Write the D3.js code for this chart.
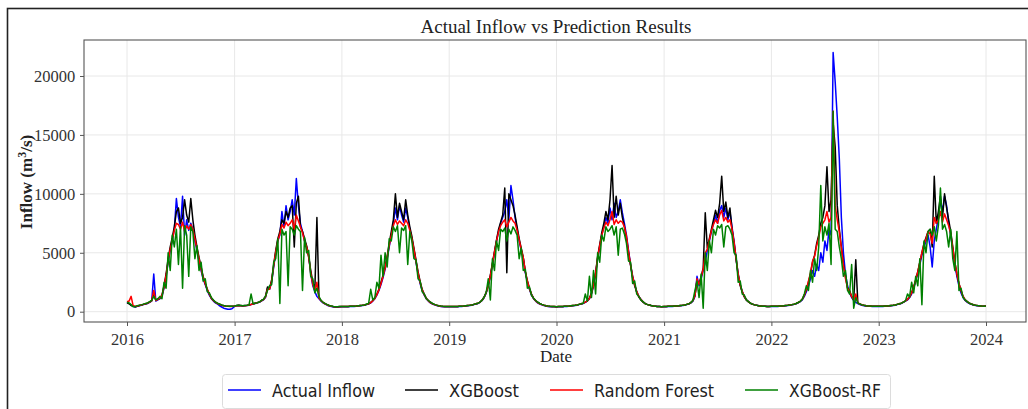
<!DOCTYPE html>
<html>
<head>
<meta charset="utf-8">
<script src="https://cdn.jsdelivr.net/npm/d3@7"></script>
<style>
  body { margin: 0; background: #fff; }
  svg { display: block; }
</style>
</head>
<body>
<div id="chart"></div>
<script>
// weekly samples, 52 per year from 2016, last value is 2024-01-01
const startYear = 2016;
const weeksPerYear = 52;

const yTicks = [0, 5000, 10000, 15000, 20000];
const xTickYears = [2016, 2017, 2018, 2019, 2020, 2021, 2022, 2023, 2024];

const seriesNames = ["Actual Inflow", "XGBoost", "Random Forest", "XGBoost-RF"];
const seriesColors = ["#0000ff", "#000000", "#ff0000", "#008000"];

const actual = [
  800,700,550,450,400,450,500,550,600,650,700,800,900,3200,900,1000,1100,1300,2000,3000,4200,5200,6000,7000,9600,8000,7200,9800,6500,7800,6900,7500,7000,6000,5200,4300,3500,2800,2300,1800,1400,1100,900,750,650,500,400,300,250,200,200,250,
  450,500,520,500,480,500,520,550,600,650,700,750,800,900,1000,1200,2000,1900,2500,3800,5000,6000,6500,8500,7200,9000,7800,8500,9500,8200,11300,9000,7500,6800,6000,5500,4800,3200,2200,1700,1300,1100,900,750,650,550,480,430,400,380,380,400,
  420,420,430,430,440,450,450,460,480,500,520,550,600,650,750,900,1100,1400,1800,2300,2900,3600,4500,5500,6500,7500,8800,7800,9000,8200,7600,8800,8000,7000,6200,5200,4200,3200,2400,1800,1400,1100,900,750,650,580,520,480,450,430,420,420,
  420,420,420,430,430,440,450,460,480,500,520,550,600,650,700,800,950,1200,1600,2200,3000,4000,5000,6000,6800,7500,8000,8500,9500,7800,10700,9500,8000,7000,6000,5200,4500,3300,2500,1900,1400,1100,900,750,650,580,520,480,450,430,420,420,
  400,420,430,430,440,450,460,480,500,520,550,600,650,700,800,900,1100,1500,2200,3200,4500,5500,6500,7200,8000,7500,8800,7800,9200,8000,8500,9500,8400,7500,6500,5200,4000,3000,2300,1700,1300,1050,850,700,620,560,520,490,470,450,440,430,
  430,430,440,440,450,460,470,480,500,520,550,600,650,750,900,1300,3000,2200,2800,3500,4200,5200,6000,6800,7500,8200,7500,8600,9000,8000,8800,7800,8500,7200,6000,4500,3200,2300,1700,1300,1000,850,720,640,580,540,510,490,470,460,450,440,
  440,440,450,450,460,470,480,500,520,550,580,620,680,750,850,1000,1300,1700,2200,2800,3500,3000,4000,3500,5000,4200,6000,5200,7000,6500,22000,19500,16500,13000,8000,5000,3200,2200,1600,1200,950,800,680,600,550,510,490,470,460,450,440,440,
  440,440,450,460,470,480,500,520,550,600,650,700,800,900,1000,1200,1500,2000,2600,3300,4000,4800,5500,6000,6500,5500,3800,6000,7000,8000,9500,8500,9800,9000,7500,6500,5200,4000,3000,2200,1600,1200,950,800,700,620,570,530,500,480,470,460,
  480
];

const xgboost = [
  750,680,520,480,420,470,520,560,620,680,720,820,950,1500,1000,1050,1150,1400,2200,3200,4500,5500,6300,7200,8500,8800,7500,8000,9500,8200,7600,9600,7800,6500,5500,4600,3800,3000,2400,1900,1500,1150,950,800,700,620,550,500,480,470,460,460,
  480,520,540,520,500,520,540,570,620,670,720,770,820,950,1050,1300,2100,2000,2700,4000,5200,6200,6800,7800,7500,8500,8000,8800,9000,5500,9200,9800,7200,6800,6200,5600,4600,3500,2500,1900,8000,1200,950,800,680,600,530,480,450,430,430,440,
  440,440,450,450,460,470,470,480,500,520,540,570,620,680,780,950,1150,1500,1900,2500,3100,3800,4700,5800,6800,7800,10000,8000,9200,8500,7800,9500,8200,7200,6400,5400,4400,3400,2600,1900,1500,1150,950,800,700,620,560,510,480,460,450,450,
  440,440,440,450,450,460,470,480,500,520,540,570,620,670,720,820,980,1250,1650,2300,3100,4100,5100,6100,7000,7600,8200,10500,3300,10000,9500,9000,8200,7200,6200,5400,4600,3400,2600,2000,1500,1150,950,800,700,620,560,510,480,460,450,440,
  420,440,450,450,460,470,480,500,520,540,570,620,670,720,820,930,1150,1600,2300,3300,4700,5700,6700,7500,8500,7800,9500,12400,8000,9800,8200,9200,8000,7200,6200,5000,3900,2900,2200,1650,1250,1000,820,700,620,560,520,490,470,450,440,430,
  450,450,460,460,470,480,490,500,520,540,570,620,670,770,950,1400,2600,2400,3000,3700,8400,5400,6200,7000,7800,8600,8000,9200,11500,8500,9300,8000,8800,7000,5800,4400,3100,2200,1650,1250,980,830,710,630,580,540,510,490,470,460,450,450,
  460,460,470,470,480,490,500,520,540,570,600,640,700,780,880,1050,1400,1900,2500,3200,4200,4800,5800,6500,7500,8000,9000,12300,8500,9500,16000,14000,9000,7000,5500,4000,3000,2000,1800,1300,1000,4400,750,650,580,540,510,490,480,470,460,460,
  460,460,470,480,490,500,520,540,570,620,670,720,820,920,1050,1250,1600,2100,2700,3400,4200,5000,5800,6300,6800,7000,5500,11500,7500,8500,9800,8000,10000,8800,7800,6800,5500,4200,3200,2400,1800,1300,1000,850,730,650,590,550,520,500,480,470,
  480
];

const randomForest = [
  850,900,1300,500,450,480,520,560,620,680,720,820,920,1800,950,1050,1150,1400,2100,3100,4300,5300,6100,6900,7500,7400,7000,7600,6800,7300,7000,7400,7000,6200,5300,4500,3600,2900,2400,1900,1500,1150,950,800,700,630,560,500,470,460,450,450,
  480,510,530,510,500,510,530,560,610,660,710,760,810,920,1020,1250,1900,1900,2600,3900,5100,6000,6600,7400,7100,7600,7300,7500,7800,7000,8200,7700,7200,6700,6000,5500,4700,3300,2300,1800,2500,1150,930,780,670,580,510,460,430,410,410,420,
  440,440,450,450,460,460,470,480,500,520,540,570,620,670,770,920,1120,1450,1850,2400,3000,3700,4600,5600,6500,7300,7800,7400,7700,7500,7300,7800,7500,6900,6200,5300,4300,3300,2500,1850,1450,1120,920,770,670,600,540,500,470,450,440,440,
  440,440,440,450,450,460,470,480,500,520,540,570,620,670,720,820,970,1230,1630,2250,3050,4050,5050,6000,6800,7300,7600,7800,7200,7600,8000,7700,7500,6900,6100,5300,4600,3400,2600,1950,1450,1130,930,770,670,600,540,500,470,450,440,440,
  420,440,450,450,460,470,480,500,520,540,570,620,670,720,820,920,1120,1550,2250,3250,4600,5600,6500,7100,7600,7300,7800,8500,7400,7800,7500,7700,7600,7200,6400,5100,4000,3000,2300,1700,1300,1050,850,700,620,560,520,490,470,450,440,430,
  450,450,460,460,470,480,490,500,520,540,570,620,670,770,930,1350,2800,2300,2900,3600,5000,5300,6100,6900,7400,7800,7500,8200,8600,7700,8000,7600,7800,7000,5900,4500,3200,2300,1700,1300,1000,850,720,640,580,540,510,490,470,460,450,450,
  460,460,470,470,480,490,500,520,540,570,600,640,700,780,880,1050,1400,1900,2600,3300,4300,4700,5600,6300,7200,7500,7800,8500,7600,8000,17000,9000,7800,6800,5400,4000,2800,2000,1700,1300,1000,1500,750,650,580,540,510,490,480,470,460,460,
  460,460,470,480,490,500,520,540,570,620,670,720,820,920,1050,1250,1600,2100,2700,3400,4200,5000,5700,6200,6800,6600,5800,8000,7500,7800,8500,7600,8300,7800,7300,6600,5400,4200,3200,2400,1800,1300,1000,850,730,650,590,550,520,500,480,470,
  480
];

const xgboostRf = [
  800,750,600,420,450,500,540,580,640,700,740,850,950,1300,1000,1100,1300,1100,2500,2000,5000,3500,6500,5500,7000,4000,7200,2000,7300,6500,3000,7200,6800,4500,5600,3500,4200,2600,2800,1700,1600,1200,1000,820,720,650,580,520,490,470,460,460,
  480,520,540,520,500,520,540,570,1500,670,720,760,820,950,1050,1300,1800,2200,2300,4200,4500,6200,700,7000,6500,6800,2200,7200,7000,6500,7300,7000,6800,1800,6300,5000,5200,3000,2800,1600,2000,1300,950,800,680,600,530,480,450,430,430,440,
  440,440,450,450,460,470,470,480,500,520,540,570,650,700,1900,1000,1200,2500,2000,4800,3000,5000,3800,6200,6000,7200,6800,7300,5000,7100,6900,7300,4000,6800,6000,4500,4400,2800,2600,1700,1500,1100,950,800,700,620,560,510,480,460,450,450,
  440,440,440,450,450,460,470,480,500,520,540,570,620,670,720,820,980,1250,1650,2800,1000,4500,3500,6000,5200,7000,6800,7100,6000,7000,6600,7200,6900,6500,4500,5400,3500,3600,2000,2100,1400,1150,950,800,700,620,560,510,480,460,450,440,
  420,440,450,450,460,470,480,500,520,540,570,620,670,720,1500,900,3000,1200,3500,1500,5000,4200,6500,6000,7200,6800,7000,7300,6500,7200,4800,7000,7100,6600,5800,4300,4200,2400,2600,1500,1300,1000,850,700,620,560,520,490,470,450,440,430,
  450,450,460,460,470,480,490,500,520,540,570,620,670,770,950,1800,2600,1200,3200,300,5000,3500,6000,5000,7000,6500,7300,7100,7400,5500,7200,7300,7000,6500,5000,4800,2500,2600,1500,1400,1000,850,720,640,580,540,510,490,470,460,450,450,
  460,460,470,470,480,490,500,520,540,570,600,640,700,780,880,1050,1500,2200,1800,3500,2500,4500,3500,5500,10700,6000,7200,6500,7500,4000,17000,7000,6800,5500,4500,3000,3500,1800,1500,4000,300,1200,750,650,580,540,510,490,480,470,460,460,
  460,460,470,480,490,500,520,540,570,620,670,720,820,920,1500,1250,2500,1600,3000,2200,4500,600,6000,5000,6800,7000,6500,7200,6000,7300,10500,7000,7400,6800,5500,7000,4500,3500,6800,1800,2000,1200,1000,850,730,650,590,550,520,500,480,470,
  480
];

const allSeries = [actual, xgboost, randomForest, xgboostRf];

function sampleDate(i) {
  const year = startYear + Math.floor(i / weeksPerYear);
  const week = i % weeksPerYear;
  return new Date(year, 0, 1 + 7 * week);
}

const W = 1028, H = 409;
const plot = { left: 84, right: 1026, top: 40, bottom: 322 };

const svg = d3.select("#chart").append("svg")
  .attr("width", W)
  .attr("height", H);

svg.append("rect").attr("width", W).attr("height", H).attr("fill", "#fff");

// outer frame of the pasted figure
svg.append("rect")
  .attr("x", 7.5).attr("y", 8.5)
  .attr("width", W + 10).attr("height", H + 10)
  .attr("fill", "none")
  .attr("stroke", "#222")
  .attr("stroke-width", 1.6);

const x = d3.scaleTime()
  .domain([new Date(2016, 0, 1), new Date(2024, 0, 1)])
  .range([127, 986]);

const y = d3.scaleLinear()
  .domain([-874, 23055])
  .range([plot.bottom, plot.top]);

// grid
const grid = svg.append("g").attr("stroke", "#e8e8e8").attr("stroke-width", 1);
grid.selectAll(".gx")
  .data(xTickYears)
  .enter().append("line")
  .attr("x1", d => x(new Date(d, 0, 1))).attr("x2", d => x(new Date(d, 0, 1)))
  .attr("y1", plot.top).attr("y2", plot.bottom);
grid.selectAll(".gy")
  .data(yTicks)
  .enter().append("line")
  .attr("x1", plot.left).attr("x2", plot.right)
  .attr("y1", d => y(d)).attr("y2", d => y(d));

// series lines
const line = d3.line()
  .x((d, i) => x(sampleDate(i)))
  .y(d => y(d));

svg.append("g")
  .selectAll("path")
  .data(allSeries)
  .enter().append("path")
  .attr("d", d => line(d))
  .attr("fill", "none")
  .attr("stroke", (d, i) => seriesColors[i])
  .attr("stroke-width", 1.5)
  .attr("stroke-linejoin", "round");

// axes
const xAxis = d3.axisBottom(x)
  .tickValues(xTickYears.map(v => new Date(v, 0, 1)))
  .tickFormat(d3.timeFormat("%Y"))
  .tickSize(4)
  .tickSizeOuter(0);

const yAxis = d3.axisLeft(y)
  .tickValues(yTicks)
  .tickFormat(d3.format("d"))
  .tickSize(4)
  .tickSizeOuter(0);

const gx = svg.append("g")
  .attr("transform", "translate(0," + plot.bottom + ")")
  .call(xAxis);
const gy = svg.append("g")
  .attr("transform", "translate(" + plot.left + ",0)")
  .call(yAxis);

[gx, gy].forEach(g => {
  g.select(".domain").remove();
  g.selectAll(".tick line").attr("stroke", "#555");
  g.selectAll(".tick text")
    .attr("fill", "#333")
    .style("font-family", "'Liberation Serif', 'Times New Roman', serif")
    .style("font-size", "16.5px");
});
gx.selectAll(".tick text").attr("dy", "0.95em");
gy.selectAll(".tick text").attr("dx", "-0.1em");

// frame of the axes
svg.append("rect")
  .attr("x", plot.left).attr("y", plot.top)
  .attr("width", plot.right - plot.left)
  .attr("height", plot.bottom - plot.top)
  .attr("fill", "none")
  .attr("stroke", "#555")
  .attr("stroke-width", 1.1);

// title and labels
svg.append("text")
  .attr("x", 556).attr("y", 33)
  .attr("text-anchor", "middle")
  .attr("textLength", 271)
  .attr("lengthAdjust", "spacingAndGlyphs")
  .style("font-family", "'Liberation Serif', 'Times New Roman', serif")
  .style("font-size", "19.5px")
  .attr("fill", "#222")
  .text("Actual Inflow vs Prediction Results");

svg.append("text")
  .attr("x", 556).attr("y", 362)
  .attr("text-anchor", "middle")
  .style("font-family", "'Liberation Serif', 'Times New Roman', serif")
  .style("font-size", "17px")
  .attr("fill", "#222")
  .text("Date");

const ylab = svg.append("text")
  .attr("transform", "translate(32,182) rotate(-90)")
  .attr("text-anchor", "middle")
  .style("font-family", "'Liberation Serif', 'Times New Roman', serif")
  .style("font-size", "17px")
  .style("font-weight", "bold")
  .attr("fill", "#222");
ylab.append("tspan").text("Inflow (m");
ylab.append("tspan").attr("dy", -6).style("font-size", "12px").text("3");
ylab.append("tspan").attr("dy", 6).text("/s)");

// legend
const legendLineX = [228, 405, 550, 745];
const legendTextW = [103, 70, 120, 92];

const legend = svg.append("g");
legend.append("rect")
  .attr("x", 222.5).attr("y", 374.5)
  .attr("width", 668).attr("height", 34)
  .attr("rx", 3)
  .attr("fill", "#fff")
  .attr("stroke", "#dcdcdc");

const items = legend.selectAll(".item")
  .data(seriesNames)
  .enter().append("g");
items.append("line")
  .attr("x1", (d, i) => legendLineX[i]).attr("x2", (d, i) => legendLineX[i] + 33)
  .attr("y1", 390).attr("y2", 390)
  .attr("stroke", (d, i) => seriesColors[i])
  .attr("stroke-width", 1.5);
items.append("text")
  .attr("x", (d, i) => legendLineX[i] + 44)
  .attr("y", 397)
  .attr("textLength", (d, i) => legendTextW[i])
  .attr("lengthAdjust", "spacingAndGlyphs")
  .style("font-family", "'DejaVu Sans', sans-serif")
  .style("font-size", "18px")
  .attr("fill", "#222")
  .text(d => d);
</script>
</body>
</html>
